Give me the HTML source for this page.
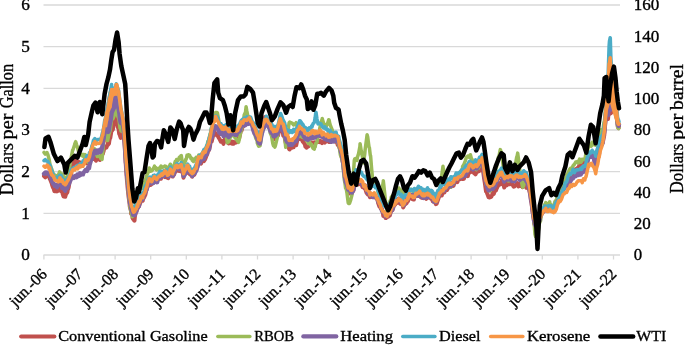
<!DOCTYPE html><html><head><meta charset="utf-8"><style>html,body{margin:0;padding:0;background:#fff;width:685px;height:345px;overflow:hidden}svg{display:block;will-change:transform}</style></head><body><svg width="685" height="345" viewBox="0 0 685 345" font-family='"Liberation Serif", serif'>
<style>text{fill:#000;stroke:#000;stroke-width:0.35px;paint-order:stroke}</style>
<rect width="685" height="345" fill="#fff"/>
<line x1="43.5" y1="213.33" x2="620" y2="213.33" stroke="#D9D9D9" stroke-width="1.3"/>
<line x1="43.5" y1="171.67" x2="620" y2="171.67" stroke="#D9D9D9" stroke-width="1.3"/>
<line x1="43.5" y1="130.00" x2="620" y2="130.00" stroke="#D9D9D9" stroke-width="1.3"/>
<line x1="43.5" y1="88.33" x2="620" y2="88.33" stroke="#D9D9D9" stroke-width="1.3"/>
<line x1="43.5" y1="46.67" x2="620" y2="46.67" stroke="#D9D9D9" stroke-width="1.3"/>
<line x1="43.5" y1="5.00" x2="620" y2="5.00" stroke="#D9D9D9" stroke-width="1.3"/>
<line x1="43.5" y1="255" x2="620" y2="255" stroke="#D9D9D9" stroke-width="1.3"/>
<line x1="43.9" y1="255" x2="43.9" y2="259.5" stroke="#D9D9D9" stroke-width="1.3"/>
<line x1="79.5" y1="255" x2="79.5" y2="259.5" stroke="#D9D9D9" stroke-width="1.3"/>
<line x1="115.1" y1="255" x2="115.1" y2="259.5" stroke="#D9D9D9" stroke-width="1.3"/>
<line x1="150.7" y1="255" x2="150.7" y2="259.5" stroke="#D9D9D9" stroke-width="1.3"/>
<line x1="186.3" y1="255" x2="186.3" y2="259.5" stroke="#D9D9D9" stroke-width="1.3"/>
<line x1="221.9" y1="255" x2="221.9" y2="259.5" stroke="#D9D9D9" stroke-width="1.3"/>
<line x1="257.5" y1="255" x2="257.5" y2="259.5" stroke="#D9D9D9" stroke-width="1.3"/>
<line x1="293.1" y1="255" x2="293.1" y2="259.5" stroke="#D9D9D9" stroke-width="1.3"/>
<line x1="328.7" y1="255" x2="328.7" y2="259.5" stroke="#D9D9D9" stroke-width="1.3"/>
<line x1="364.3" y1="255" x2="364.3" y2="259.5" stroke="#D9D9D9" stroke-width="1.3"/>
<line x1="399.9" y1="255" x2="399.9" y2="259.5" stroke="#D9D9D9" stroke-width="1.3"/>
<line x1="435.5" y1="255" x2="435.5" y2="259.5" stroke="#D9D9D9" stroke-width="1.3"/>
<line x1="471.1" y1="255" x2="471.1" y2="259.5" stroke="#D9D9D9" stroke-width="1.3"/>
<line x1="506.7" y1="255" x2="506.7" y2="259.5" stroke="#D9D9D9" stroke-width="1.3"/>
<line x1="542.3" y1="255" x2="542.3" y2="259.5" stroke="#D9D9D9" stroke-width="1.3"/>
<line x1="577.9" y1="255" x2="577.9" y2="259.5" stroke="#D9D9D9" stroke-width="1.3"/>
<line x1="613.5" y1="255" x2="613.5" y2="259.5" stroke="#D9D9D9" stroke-width="1.3"/>
<path d="M103.5,142 L105,128 L106.5,104 L108.5,92 L111,87 L114,88 L116.5,82 L119,87 L121,100 L123,115 L125,130 L126.5,145 L122,140 L119.2,135 L117.8,127.7 L114.9,114.6 L112,130.6 L109.8,139.3 L107,143 Z" fill="#F79646"/>
<path d="M44.0,176.0 L45.3,177.3 L46.6,175.6 L47.0,175.5 L47.9,176.0 L49.2,176.5 L49.6,178.3 L50.5,180.2 L51.8,183.5 L52.2,185.4 L53.0,187.6 L53.1,186.6 L54.4,191.1 L54.8,191.3 L55.7,190.1 L57.0,191.5 L57.4,191.2 L58.0,189.8 L58.3,188.5 L59.6,190.2 L60.0,188.2 L60.9,191.3 L62.2,191.0 L62.6,193.6 L63.5,196.5 L64.0,196.3 L64.8,194.5 L65.2,196.8 L66.1,194.0 L67.4,192.3 L67.8,189.8 L68.0,189.5 L68.7,187.3 L70.0,178.9 L71.0,173.6 L71.3,174.1 L71.3,172.0 L72.6,165.9 L73.9,162.7 L74.5,160.7 L74.8,160.6 L75.2,161.3 L76.5,163.0 L77.4,161.3 L77.8,162.0 L78.0,161.3 L79.1,162.2 L80.4,163.5 L80.5,162.6 L81.7,163.9 L83.0,163.1 L83.0,162.6 L83.2,163.1 L84.3,162.6 L85.6,160.8 L86.0,162.1 L86.9,163.3 L88.2,160.5 L89.0,162.1 L89.5,162.3 L90.8,159.5 L91.9,158.3 L92.0,158.4 L92.1,158.7 L93.4,159.1 L94.7,158.4 L94.8,157.7 L95.0,159.1 L96.0,160.7 L97.3,157.8 L97.7,159.2 L98.6,157.8 L99.9,160.0 L100.0,159.1 L100.6,158.6 L101.2,157.0 L102.5,153.3 L102.8,153.8 L103.8,150.5 L104.0,147.3 L104.7,146.7 L105.1,147.0 L106.0,147.1 L106.4,147.7 L107.0,146.0 L107.7,143.9 L108.0,144.9 L109.0,143.6 L109.3,141.0 L109.8,138.5 L110.3,137.9 L111.6,130.0 L111.6,131.1 L112.0,130.7 L112.9,129.4 L113.5,125.3 L114.0,124.4 L114.2,123.7 L114.9,118.5 L115.5,117.9 L116.3,119.9 L116.8,121.9 L117.8,127.3 L118.1,127.4 L118.6,129.2 L119.2,134.0 L119.4,133.9 L120.7,137.9 L120.9,137.7 L122.0,135.4 L122.0,137.0 L123.2,135.2 L123.3,134.2 L124.0,137.0 L124.3,140.7 L124.6,144.8 L125.2,155.1 L125.5,160.4 L125.9,166.0 L126.0,168.8 L127.0,181.2 L127.2,182.3 L127.5,186.9 L128.5,196.4 L128.5,196.5 L129.5,203.2 L129.8,206.7 L130.0,207.3 L131.0,210.9 L131.1,213.8 L131.5,214.2 L132.4,215.5 L132.5,217.8 L133.0,218.8 L133.7,218.5 L134.2,220.6 L134.5,220.7 L135.0,215.6 L136.0,212.5 L136.3,211.8 L137.5,208.1 L137.6,208.7 L138.9,206.2 L139.0,206.3 L140.0,203.3 L140.2,203.1 L141.0,200.6 L141.5,198.5 L142.8,200.7 L142.9,199.3 L144.1,197.5 L145.4,194.7 L145.8,192.7 L146.7,188.5 L148.0,185.4 L148.0,186.1 L149.3,184.0 L149.4,181.8 L150.6,185.0 L151.6,184.1 L151.9,183.3 L153.2,183.2 L154.5,180.4 L154.5,180.4 L155.8,180.9 L156.7,181.9 L157.1,180.1 L158.4,178.1 L159.6,178.7 L159.7,178.6 L160.0,178.3 L161.0,178.7 L161.7,176.7 L162.3,175.9 L163.6,175.8 L163.9,176.4 L164.9,177.1 L166.1,175.2 L166.2,174.7 L167.5,177.8 L168.3,178.1 L168.8,175.5 L170.0,174.1 L170.1,174.7 L170.4,172.6 L171.4,175.3 L172.6,176.6 L172.7,176.6 L174.0,174.7 L174.8,172.5 L175.3,171.5 L176.6,170.9 L177.0,170.0 L177.9,168.9 L179.1,170.9 L179.2,168.9 L180.5,171.2 L181.3,168.1 L181.8,169.5 L183.1,174.4 L183.5,177.8 L184.4,174.5 L185.7,173.2 L185.7,173.4 L187.0,172.8 L187.8,169.4 L188.3,171.0 L189.6,173.9 L190.0,174.5 L190.9,174.9 L192.2,176.7 L192.2,176.8 L193.5,173.9 L194.3,174.8 L194.8,172.1 L196.1,170.1 L196.5,170.3 L197.4,166.0 L198.7,161.7 L198.7,164.1 L200.0,163.0 L200.0,163.0 L201.0,163.7 L201.3,161.0 L202.6,159.8 L203.0,160.8 L203.9,161.2 L205.2,159.2 L205.7,157.8 L206.5,155.6 L207.5,153.4 L207.8,152.2 L209.1,148.4 L209.1,149.9 L210.0,146.3 L210.4,143.0 L211.4,140.4 L211.7,141.6 L213.0,136.0 L213.8,134.4 L214.3,132.6 L215.0,134.2 L215.5,133.1 L215.6,133.3 L216.9,135.6 L218.2,135.6 L218.4,137.2 L219.5,139.0 L220.8,141.7 L221.0,140.5 L222.0,141.5 L222.1,141.5 L223.2,142.0 L223.4,143.9 L224.7,139.3 L226.0,138.1 L226.2,139.7 L227.3,142.0 L228.6,143.5 L229.0,142.8 L229.9,140.9 L230.0,141.6 L231.2,143.4 L232.5,143.8 L233.0,141.6 L233.8,143.6 L235.1,142.1 L236.0,142.5 L236.4,142.6 L237.0,141.8 L237.7,140.7 L239.0,137.2 L239.1,138.5 L240.3,133.2 L241.1,130.3 L241.6,130.5 L242.9,125.7 L243.0,126.0 L243.5,126.2 L244.2,124.9 L245.5,121.9 L246.8,120.3 L247.8,121.7 L248.1,121.1 L249.4,117.8 L250.0,119.0 L250.7,120.6 L252.0,123.1 L252.3,124.6 L253.3,128.5 L254.6,128.8 L255.9,132.4 L256.1,134.2 L257.2,139.1 L258.0,140.5 L258.5,142.1 L258.6,141.5 L259.8,139.9 L260.0,141.4 L261.1,132.2 L262.3,126.9 L262.4,125.1 L263.7,121.2 L264.0,120.8 L265.0,117.8 L265.0,117.1 L266.0,117.3 L266.3,118.7 L267.6,119.2 L268.1,121.8 L268.9,122.4 L270.0,127.5 L270.2,127.7 L271.5,132.6 L272.0,134.1 L272.8,136.7 L273.5,137.3 L274.1,139.2 L275.4,139.1 L276.7,136.9 L277.0,136.8 L278.0,135.5 L279.3,129.5 L280.0,128.7 L280.4,127.0 L280.6,128.6 L281.9,130.0 L283.0,133.3 L283.2,135.6 L284.5,136.6 L285.7,143.0 L285.8,143.0 L287.0,145.5 L287.1,145.3 L288.4,146.4 L289.1,149.1 L289.7,149.4 L291.0,146.3 L292.3,147.6 L292.6,147.3 L293.6,147.3 L294.0,145.4 L294.9,145.6 L296.1,143.2 L296.2,145.2 L297.5,139.4 L298.8,139.3 L299.6,136.6 L300.1,137.5 L301.4,139.3 L302.2,140.2 L302.7,141.5 L304.0,142.8 L304.8,144.5 L305.0,144.7 L305.3,146.5 L306.6,147.6 L307.9,145.2 L308.0,146.1 L308.3,146.5 L309.2,144.2 L310.5,142.9 L311.7,142.8 L311.8,142.4 L313.1,142.8 L314.4,142.4 L315.2,144.0 L315.7,142.6 L317.0,142.2 L318.3,141.6 L318.7,142.0 L319.6,140.8 L320.0,142.2 L320.9,141.0 L322.2,143.1 L322.2,141.4 L323.5,141.4 L324.8,142.6 L325.7,141.2 L326.1,139.2 L327.4,138.9 L328.7,141.8 L329.0,139.1 L329.1,139.5 L330.0,142.0 L331.3,138.9 L332.6,140.2 L332.6,141.2 L333.9,139.9 L335.2,141.6 L336.0,141.8 L336.1,141.4 L336.5,140.6 L337.8,145.2 L338.7,145.5 L339.1,146.8 L340.4,149.9 L341.3,154.7 L341.7,157.1 L343.0,162.5 L343.0,163.2 L344.3,172.6 L345.0,178.6 L345.1,178.9 L345.6,181.3 L346.9,186.4 L348.2,190.5 L348.6,190.6 L349.5,193.5 L350.8,193.3 L352.0,193.1 L352.1,192.6 L353.4,190.5 L354.7,184.7 L355.5,184.0 L356.0,184.6 L357.3,183.4 L358.6,184.5 L359.9,182.6 L360.1,182.6 L361.2,183.1 L362.5,187.2 L363.8,186.4 L364.8,188.6 L365.1,188.4 L366.4,192.5 L367.7,194.4 L369.0,192.7 L369.4,195.7 L370.0,197.2 L370.3,195.3 L371.6,197.0 L372.9,195.2 L374.2,197.2 L375.2,196.6 L375.5,196.9 L376.8,198.6 L377.8,201.0 L378.1,202.9 L379.4,206.6 L380.4,207.2 L380.7,208.4 L382.0,209.4 L383.0,213.7 L383.3,216.1 L384.6,214.7 L385.6,218.1 L385.9,218.1 L387.2,216.0 L388.2,216.6 L388.5,215.0 L389.8,215.5 L390.8,211.9 L391.1,210.3 L392.4,210.3 L393.5,207.1 L393.7,205.4 L395.0,204.9 L396.1,202.9 L396.3,203.2 L397.6,202.6 L398.7,201.0 L398.9,199.0 L400.0,201.9 L400.2,203.9 L401.3,203.1 L401.5,204.6 L402.8,204.6 L403.2,207.5 L404.1,205.6 L405.2,203.7 L405.4,204.1 L406.7,203.2 L407.8,200.1 L408.0,201.1 L409.3,196.6 L409.3,197.6 L410.6,197.5 L411.9,198.9 L413.2,199.4 L413.9,199.5 L414.5,196.5 L415.8,196.0 L417.1,195.4 L418.4,196.0 L418.6,194.6 L419.7,195.4 L421.0,197.4 L422.3,198.0 L423.2,197.8 L423.6,196.3 L424.9,197.5 L426.2,198.9 L427.5,197.4 L427.8,196.4 L428.8,197.2 L430.1,197.7 L431.4,199.1 L432.5,199.4 L432.7,201.4 L434.0,200.7 L435.3,202.8 L435.9,204.1 L436.6,203.9 L437.9,200.2 L439.2,196.3 L439.4,196.3 L440.5,194.8 L441.8,195.5 L443.1,191.5 L444.1,191.0 L444.4,192.5 L445.7,189.1 L447.0,190.0 L448.3,187.7 L448.7,186.9 L449.6,184.8 L450.9,186.9 L452.2,183.4 L453.3,185.1 L453.5,185.9 L454.8,182.4 L456.1,180.4 L457.4,182.2 L458.0,180.0 L458.7,178.2 L460.0,179.1 L460.0,178.8 L461.3,178.5 L462.6,179.1 L462.6,179.1 L463.9,178.8 L465.2,175.3 L466.5,175.7 L467.2,175.3 L467.8,176.2 L469.1,170.4 L470.0,170.5 L470.4,172.4 L471.7,171.2 L473.0,171.5 L474.1,173.3 L474.3,172.4 L475.6,174.4 L476.9,170.6 L478.1,171.5 L478.2,170.1 L479.5,170.8 L480.8,167.5 L482.0,167.2 L482.1,168.2 L482.2,167.0 L483.4,173.4 L484.2,179.1 L484.7,182.1 L486.0,191.6 L486.0,190.1 L486.2,190.3 L487.3,193.8 L488.6,197.2 L489.3,197.5 L489.9,197.3 L490.0,196.8 L491.2,196.9 L492.3,194.6 L492.5,192.9 L493.8,193.8 L495.1,189.7 L495.4,190.7 L496.0,190.4 L496.4,189.2 L497.7,186.4 L498.4,185.4 L499.0,183.2 L500.3,184.4 L501.5,181.3 L501.6,180.4 L502.0,181.4 L502.9,181.8 L504.2,187.5 L504.5,186.0 L505.5,183.3 L506.8,185.4 L507.6,183.1 L508.1,183.8 L509.4,184.3 L510.0,183.0 L510.6,183.3 L510.7,183.9 L512.0,183.2 L513.3,186.1 L513.7,186.7 L514.6,186.3 L515.9,185.1 L516.7,183.5 L517.2,183.2 L518.5,186.4 L519.8,183.9 L520.8,185.9 L521.1,184.0 L522.4,187.1 L523.7,183.7 L524.8,184.6 L525.0,185.3 L525.0,185.4 L526.3,187.8 L527.6,188.0 L527.9,187.1 L528.9,188.5 L529.9,193.3 L530.0,194.2 L530.2,193.1 L531.0,201.1 L531.5,203.0 L532.5,211.3 L532.8,213.3 L534.0,221.1 L534.1,223.3 L535.4,226.9 L535.5,226.4 L536.7,226.3 L537.0,225.1 L538.0,223.0 L539.0,221.4 L539.3,220.7 L540.6,216.1 L541.0,215.6 L541.9,213.0 L543.2,212.1 L544.5,209.5 L544.8,210.3 L545.0,210.2 L545.8,208.9 L547.1,209.6 L548.4,210.3 L549.7,207.7 L549.8,208.3 L551.0,208.4 L552.3,209.7 L553.5,210.0 L553.6,207.8 L554.9,208.5 L556.2,204.8 L557.3,202.3 L557.5,201.9 L558.8,199.5 L560.0,194.8 L560.1,195.6 L561.4,191.1 L562.7,189.3 L563.2,188.5 L564.0,186.0 L565.3,183.8 L566.6,185.0 L567.8,182.6 L567.9,182.8 L569.2,179.7 L570.0,179.6 L570.5,176.8 L571.8,176.6 L572.5,174.7 L573.1,174.3 L574.4,171.7 L575.7,169.0 L577.0,169.2 L577.1,168.1 L578.3,167.7 L579.6,164.7 L580.9,162.1 L581.0,163.6 L581.7,164.0 L582.2,165.4 L583.5,164.9 L584.8,161.2 L585.2,163.1 L586.1,159.5 L587.4,157.8 L588.7,153.1 L588.7,153.3 L590.0,153.5 L590.0,153.6 L591.3,154.2 L592.2,153.6 L592.6,155.4 L593.9,158.4 L595.2,163.8 L595.7,164.5 L596.5,161.8 L597.8,155.8 L599.1,150.8 L599.1,150.0 L600.0,147.5 L600.4,145.8 L601.7,144.3 L602.6,142.8 L603.0,141.6 L604.3,135.2 L604.5,132.3 L605.6,118.8 L605.9,117.2 L606.0,115.8 L606.9,119.3 L608.0,119.1 L608.2,117.0 L609.1,108.3 L609.5,109.3 L610.0,113.8 L610.2,110.2 L610.8,112.9 L611.0,113.1 L612.0,107.8 L612.1,109.3 L612.4,108.5 L613.4,107.7 L614.6,105.4 L614.7,105.1 L616.0,113.6 L616.0,112.6 L616.7,117.7 L617.3,121.8 L617.8,126.8 L618.6,128.1 L619.0,126.1" fill="none" stroke="#C0504D" stroke-width="4.0" stroke-linejoin="round" stroke-linecap="round"/>
<path d="M44.0,152.4 L45.3,154.1 L46.6,153.3 L47.0,152.6 L47.9,154.6 L49.2,159.9 L49.6,162.0 L50.4,166.7 L50.5,165.6 L51.8,169.5 L52.2,170.4 L53.1,173.6 L54.4,175.2 L54.8,176.6 L55.7,175.4 L57.0,177.6 L57.4,177.3 L58.3,175.4 L59.6,171.9 L60.0,172.4 L60.9,174.6 L62.2,174.0 L62.6,175.2 L63.5,176.4 L64.3,176.9 L64.8,179.2 L65.2,179.0 L66.1,178.9 L67.4,176.2 L67.8,174.3 L68.0,173.4 L68.7,171.5 L70.0,164.6 L70.0,164.0 L71.3,157.5 L71.3,157.1 L72.6,150.3 L73.0,149.7 L73.9,147.0 L74.8,144.3 L75.2,142.7 L75.7,141.7 L76.5,144.5 L77.4,147.1 L77.8,148.3 L78.3,150.8 L79.1,152.4 L80.4,154.6 L80.5,154.6 L81.7,154.6 L81.7,155.8 L83.0,154.4 L83.2,156.0 L84.3,157.3 L85.2,154.6 L85.6,156.8 L86.0,157.0 L86.9,158.5 L88.2,162.5 L89.0,162.9 L89.5,160.7 L90.8,156.9 L91.9,152.7 L92.1,151.8 L93.0,149.8 L93.4,151.9 L94.7,148.9 L94.8,149.2 L96.0,154.5 L96.2,152.8 L97.3,156.5 L97.7,155.6 L98.6,156.3 L99.9,156.3 L100.0,156.2 L100.6,158.4 L101.2,157.7 L102.0,159.5 L102.5,154.2 L102.8,151.9 L103.8,138.5 L104.0,136.4 L104.7,136.1 L105.1,134.8 L106.0,137.2 L106.4,136.1 L107.0,137.5 L107.7,140.5 L108.0,138.9 L109.0,133.6 L109.3,133.1 L110.3,129.9 L110.5,128.4 L111.6,118.3 L111.6,120.5 L112.9,117.4 L113.0,118.6 L114.0,116.1 L114.2,115.1 L115.3,108.2 L115.5,109.0 L116.3,109.1 L116.8,112.8 L117.5,115.4 L118.1,117.2 L118.6,118.0 L119.4,122.5 L120.0,128.1 L120.7,128.9 L120.9,130.9 L122.0,130.2 L122.0,129.7 L123.2,130.1 L123.3,129.7 L124.0,134.0 L124.3,137.1 L124.6,140.8 L125.2,150.5 L125.9,163.4 L126.0,163.5 L127.0,176.7 L127.2,179.1 L128.0,188.2 L128.5,194.1 L128.5,193.8 L129.8,204.5 L130.0,207.6 L131.1,211.7 L131.5,213.9 L131.6,214.6 L132.4,216.7 L133.0,215.2 L133.7,210.8 L134.5,209.8 L135.0,207.9 L135.0,207.2 L136.0,202.1 L136.3,200.2 L137.0,197.8 L137.5,196.8 L137.6,197.9 L138.9,193.2 L139.0,193.3 L140.0,189.4 L140.2,187.9 L141.0,187.4 L141.5,187.3 L142.8,188.4 L142.9,185.9 L144.1,182.8 L145.0,181.5 L145.4,180.7 L145.8,178.5 L146.7,175.8 L148.0,172.7 L148.0,172.4 L149.3,168.4 L149.4,168.0 L150.6,171.2 L151.6,170.2 L151.9,170.8 L153.2,169.0 L154.5,166.1 L154.5,167.5 L155.8,167.5 L156.0,169.2 L156.7,170.0 L157.1,169.7 L158.4,168.3 L159.6,167.9 L159.7,169.3 L160.3,167.3 L161.0,166.0 L161.7,167.6 L162.3,167.3 L163.6,166.8 L163.9,166.7 L164.9,166.7 L165.0,166.1 L166.1,166.4 L166.2,167.4 L167.5,167.3 L168.3,168.7 L168.8,169.5 L170.0,164.7 L170.1,165.2 L170.4,164.2 L171.4,166.8 L172.6,168.2 L172.7,167.5 L174.0,166.1 L174.8,163.0 L175.3,161.3 L176.2,160.9 L176.6,159.5 L177.0,159.7 L177.9,160.6 L179.1,158.6 L179.2,157.5 L180.5,156.3 L181.3,155.5 L181.8,159.3 L183.1,164.4 L183.5,164.8 L184.4,163.3 L185.7,160.5 L185.7,159.5 L186.4,158.7 L187.0,155.3 L187.8,155.7 L188.3,154.8 L189.6,155.1 L190.0,156.9 L190.7,157.0 L190.9,158.6 L192.2,158.6 L192.2,160.2 L193.5,161.5 L194.3,160.0 L194.8,159.5 L195.1,158.8 L196.1,157.4 L196.5,158.9 L197.4,158.2 L198.7,155.4 L198.7,154.9 L200.0,156.2 L200.0,157.2 L201.0,156.5 L201.3,154.3 L202.6,152.8 L203.0,152.2 L203.9,150.2 L204.0,150.8 L205.2,148.7 L205.7,148.6 L206.5,146.8 L207.5,143.4 L207.8,141.4 L209.1,140.0 L209.1,138.9 L210.0,134.1 L210.4,133.2 L211.4,128.2 L211.7,128.3 L213.0,123.9 L213.7,120.6 L213.8,120.1 L214.3,116.6 L215.5,113.8 L215.6,112.6 L216.9,112.4 L217.4,112.8 L218.2,117.3 L218.4,118.3 L219.5,125.0 L220.0,127.1 L220.8,128.9 L221.0,127.6 L222.1,130.1 L223.2,131.4 L223.4,129.0 L223.7,130.3 L224.7,132.3 L226.0,136.4 L226.2,136.7 L227.3,142.6 L227.4,142.7 L228.6,141.9 L229.0,140.8 L229.9,138.5 L231.1,133.4 L231.2,134.6 L232.5,135.6 L233.0,135.3 L233.8,134.1 L234.9,137.5 L235.1,137.7 L236.0,138.8 L236.4,139.3 L237.7,141.3 L238.6,142.3 L239.0,140.1 L239.1,140.5 L240.3,134.0 L241.1,130.7 L241.6,128.7 L242.4,126.0 L242.9,123.7 L243.5,120.3 L244.2,115.0 L245.5,112.1 L246.1,106.8 L246.8,110.9 L247.8,115.8 L248.1,115.8 L248.6,120.8 L249.4,121.9 L250.0,119.6 L250.7,121.0 L252.0,123.1 L252.3,123.8 L253.3,128.6 L254.6,133.9 L255.9,138.6 L256.1,138.5 L257.2,141.0 L257.3,143.0 L258.5,145.8 L258.6,146.2 L259.8,145.4 L260.0,145.7 L261.0,140.2 L261.1,137.3 L262.3,131.4 L262.4,130.5 L263.7,128.3 L264.0,124.9 L265.0,120.8 L266.0,119.9 L266.3,121.3 L267.6,122.4 L268.1,125.4 L268.9,126.2 L269.8,130.3 L270.0,130.3 L270.2,133.1 L271.5,135.8 L272.8,143.4 L273.5,145.8 L274.1,145.5 L274.8,147.2 L275.4,145.6 L276.7,140.1 L277.0,138.8 L278.0,133.4 L278.5,128.9 L279.3,122.7 L280.4,114.1 L280.6,114.7 L281.9,119.7 L283.0,124.1 L283.2,124.7 L283.9,128.9 L284.5,134.1 L285.7,147.3 L285.8,144.8 L287.1,135.9 L288.4,128.0 L289.1,122.8 L289.7,122.0 L291.0,122.7 L292.3,123.3 L292.6,123.5 L293.6,125.0 L294.9,124.4 L296.1,122.7 L296.2,123.0 L297.5,127.8 L298.8,132.0 L299.6,136.6 L300.1,134.6 L301.4,135.6 L302.2,137.3 L302.7,137.6 L304.0,136.8 L304.8,138.5 L305.3,138.4 L306.6,141.0 L307.9,140.9 L308.3,143.6 L309.2,141.5 L310.0,142.9 L310.5,144.9 L311.7,144.6 L311.8,145.9 L313.1,148.3 L314.3,149.2 L314.4,147.4 L315.2,147.1 L315.7,143.6 L317.0,142.4 L318.3,133.8 L318.7,134.1 L319.6,129.2 L320.9,122.7 L322.2,119.0 L322.2,118.5 L323.5,123.1 L324.8,124.8 L325.7,125.6 L326.1,126.4 L327.4,123.9 L328.7,119.7 L329.1,120.1 L330.0,124.5 L331.3,127.6 L332.6,130.9 L332.6,132.0 L333.9,135.6 L335.2,135.5 L336.1,137.2 L336.5,140.3 L337.8,143.1 L338.7,144.6 L339.1,147.3 L339.6,149.4 L340.4,154.9 L341.3,157.2 L341.7,158.3 L343.0,164.7 L343.0,166.4 L344.3,179.6 L345.0,183.2 L345.1,184.4 L345.6,188.4 L346.2,188.5 L346.9,192.6 L348.2,202.8 L348.6,203.5 L349.5,203.4 L350.8,199.7 L352.0,194.9 L352.1,194.1 L353.4,174.1 L354.3,160.4 L354.7,158.9 L355.5,158.6 L356.0,158.4 L357.0,160.4 L357.3,157.7 L358.6,153.6 L359.9,146.5 L360.1,143.7 L361.2,150.7 L362.5,157.1 L363.6,163.0 L363.8,160.9 L364.8,153.6 L365.1,149.9 L366.4,140.2 L367.1,134.7 L367.7,137.0 L369.0,146.9 L369.4,147.7 L370.0,153.0 L370.3,155.4 L370.6,155.9 L371.6,168.7 L372.9,182.3 L372.9,182.1 L374.2,181.0 L375.2,182.2 L375.5,181.6 L376.4,183.8 L376.8,185.6 L377.8,190.0 L378.1,192.2 L379.4,195.4 L379.9,200.3 L380.4,196.7 L380.7,194.6 L382.0,189.7 L383.0,183.4 L383.3,181.9 L383.3,180.7 L384.6,192.4 L385.6,201.9 L385.9,203.0 L386.8,210.2 L387.2,210.1 L388.2,206.9 L388.5,207.6 L389.8,201.7 L390.8,199.4 L391.1,198.6 L391.4,196.8 L392.4,196.0 L393.5,194.6 L393.7,194.5 L395.0,191.8 L396.1,193.0 L396.3,194.3 L397.0,191.6 L397.6,193.0 L398.7,189.5 L398.9,188.1 L400.2,191.4 L401.3,190.4 L401.5,191.7 L402.0,191.9 L402.8,193.9 L403.2,194.4 L404.1,195.1 L405.2,192.7 L405.4,194.1 L406.7,191.2 L407.8,192.2 L408.0,193.1 L409.3,189.6 L409.3,190.1 L410.0,190.7 L410.6,189.2 L411.9,190.6 L413.2,191.6 L413.9,192.1 L414.5,193.2 L415.8,190.8 L417.1,190.4 L418.4,188.2 L418.6,188.8 L419.7,191.0 L420.0,190.2 L421.0,191.5 L422.3,191.9 L423.2,193.0 L423.6,194.4 L424.9,191.7 L426.2,192.4 L427.5,192.8 L427.8,191.5 L428.8,194.4 L430.1,193.3 L431.4,193.0 L432.5,194.9 L432.7,196.2 L434.0,197.3 L435.0,198.7 L435.3,196.8 L435.9,199.1 L436.6,198.1 L437.9,195.3 L439.2,190.6 L439.4,189.7 L440.0,188.6 L440.5,185.2 L441.8,175.2 L443.0,166.3 L443.1,167.6 L444.1,171.6 L444.4,174.5 L445.7,177.6 L446.0,181.1 L447.0,181.5 L448.3,183.6 L448.7,182.7 L449.6,184.0 L450.9,187.1 L451.0,185.3 L452.2,183.6 L453.3,183.0 L453.5,184.1 L454.8,179.6 L456.1,179.6 L457.4,175.1 L458.0,174.9 L458.7,174.0 L460.0,172.0 L461.3,170.6 L462.6,168.2 L462.6,166.4 L463.9,164.6 L465.2,161.1 L466.5,157.0 L467.0,156.6 L467.2,156.9 L467.8,156.1 L469.1,157.3 L470.0,154.9 L470.4,154.8 L471.7,159.9 L472.0,159.2 L473.0,162.5 L474.1,165.2 L474.3,164.1 L475.6,168.8 L476.5,169.6 L476.9,167.4 L478.1,167.0 L478.2,168.3 L479.5,165.9 L480.8,162.8 L482.0,158.7 L482.1,158.1 L482.2,158.5 L483.4,165.8 L484.2,172.7 L484.7,174.6 L486.0,182.2 L486.2,184.7 L487.3,185.2 L488.6,189.4 L489.3,191.1 L489.9,191.1 L490.3,190.8 L491.2,188.4 L492.3,183.0 L492.5,183.6 L493.8,176.2 L495.0,171.7 L495.1,170.1 L495.4,169.8 L496.4,167.5 L497.7,160.4 L498.4,157.1 L499.0,156.1 L500.3,149.6 L500.5,150.0 L501.5,153.7 L501.6,154.0 L502.9,163.8 L503.5,169.4 L504.2,174.5 L504.5,173.5 L505.5,174.6 L506.8,177.5 L507.6,178.6 L508.1,180.8 L508.6,180.9 L509.4,178.2 L510.6,177.2 L510.7,175.1 L512.0,172.5 L513.3,170.8 L513.7,171.2 L514.6,169.8 L514.7,168.0 L515.9,161.6 L516.7,157.1 L517.2,155.8 L517.7,153.1 L518.5,159.3 L519.7,169.9 L519.8,169.8 L520.8,177.4 L521.1,179.2 L522.4,186.8 L522.8,187.2 L523.7,185.8 L524.8,179.7 L525.0,181.3 L526.3,178.1 L526.9,176.9 L527.6,179.0 L527.9,178.3 L528.9,182.3 L529.9,184.6 L530.0,185.8 L530.2,186.8 L531.0,193.8 L531.5,197.2 L532.5,207.3 L532.8,208.8 L533.0,211.7 L534.0,223.5 L534.1,223.1 L535.0,234.6 L535.4,235.3 L535.5,236.5 L536.7,235.7 L537.0,236.7 L538.0,231.8 L539.0,227.7 L539.3,223.7 L540.0,221.8 L540.6,220.7 L541.0,217.1 L541.9,213.6 L543.2,209.1 L544.5,204.8 L544.8,204.9 L545.0,205.2 L545.8,202.6 L547.1,205.5 L548.4,204.7 L549.7,201.8 L549.8,203.2 L551.0,205.2 L552.3,205.6 L553.5,205.2 L553.6,206.7 L554.9,201.6 L556.2,200.0 L557.3,197.8 L557.5,198.4 L558.8,192.9 L560.0,191.3 L560.1,192.5 L561.4,188.8 L562.7,186.8 L563.0,185.8 L563.2,185.0 L564.0,181.7 L565.3,180.5 L566.6,175.0 L567.8,173.3 L567.9,173.2 L569.2,170.1 L570.5,168.2 L571.8,168.5 L572.5,167.2 L573.1,165.7 L574.4,164.3 L575.7,162.0 L577.0,161.8 L577.1,161.7 L578.3,163.0 L579.6,159.1 L580.9,162.2 L581.7,161.0 L582.2,159.3 L583.5,159.6 L584.8,158.7 L585.2,157.2 L586.1,153.2 L586.4,153.2 L587.4,151.7 L588.7,144.8 L588.7,146.4 L590.0,144.2 L591.0,146.3 L591.3,146.2 L592.2,142.3 L592.6,144.1 L593.9,144.8 L595.2,143.4 L595.7,145.3 L596.5,143.8 L597.8,138.7 L599.1,135.8 L599.1,136.3 L600.3,133.5 L600.4,133.2 L601.7,129.4 L602.6,129.3 L603.0,129.0 L604.0,122.3 L604.3,122.1 L604.5,120.1 L605.6,110.0 L605.9,106.9 L606.0,106.5 L606.9,105.3 L608.0,105.6 L608.2,106.2 L609.1,109.9 L609.5,108.3 L610.0,108.5 L610.2,104.5 L610.8,103.7 L611.0,105.4 L612.0,98.2 L612.1,99.5 L612.4,100.0 L613.4,99.9 L614.6,103.1 L614.7,105.4 L616.0,114.1 L616.7,119.7 L617.3,123.7 L617.8,127.7 L618.6,128.5 L619.0,128.0" fill="none" stroke="#9BBB59" stroke-width="3.5" stroke-linejoin="round" stroke-linecap="round"/>
<path d="M44.0,173.8 L45.3,172.5 L46.6,173.7 L47.0,172.5 L47.9,173.7 L49.2,173.5 L49.6,175.1 L50.5,176.5 L51.8,180.1 L52.2,181.7 L53.0,182.9 L53.1,183.7 L54.4,184.2 L54.8,185.9 L55.7,185.0 L57.0,187.3 L57.4,185.8 L58.0,184.5 L58.3,185.3 L59.6,182.6 L60.0,182.2 L60.9,182.1 L62.2,188.0 L62.6,187.1 L63.5,186.7 L64.0,188.5 L64.8,190.2 L65.2,190.7 L66.1,187.2 L67.4,187.8 L67.8,185.0 L68.0,185.4 L68.7,184.6 L70.0,181.2 L71.3,178.5 L71.3,178.5 L72.6,176.6 L73.9,178.0 L74.5,177.4 L74.8,177.3 L75.2,175.9 L76.5,177.2 L77.4,174.5 L77.8,176.3 L79.1,175.7 L80.0,173.3 L80.4,175.1 L80.5,173.9 L81.7,174.1 L83.0,174.3 L83.2,172.9 L84.3,171.8 L85.6,169.9 L86.0,170.4 L86.9,171.0 L88.2,167.2 L89.0,168.3 L89.5,165.5 L90.8,161.0 L91.9,158.4 L92.1,158.6 L93.4,154.2 L94.7,150.8 L94.8,151.1 L95.0,151.5 L96.0,153.1 L97.3,150.4 L97.7,152.4 L98.6,152.5 L99.9,149.8 L100.0,151.4 L100.6,151.8 L101.2,151.1 L102.5,145.8 L102.8,142.9 L103.8,138.1 L104.0,135.7 L104.7,132.6 L105.1,131.7 L106.0,129.6 L106.4,131.0 L107.0,130.1 L107.7,129.2 L108.3,132.0 L109.0,130.3 L109.3,127.0 L110.3,121.3 L110.5,121.5 L111.6,113.6 L111.6,112.8 L112.9,109.8 L113.0,109.9 L114.0,107.9 L114.2,105.1 L115.5,98.0 L115.6,98.9 L116.3,97.9 L116.8,102.5 L117.5,106.2 L118.1,107.1 L118.6,108.9 L119.4,113.8 L120.0,119.7 L120.7,122.9 L120.9,123.1 L122.0,123.6 L122.8,124.8 L123.2,126.4 L123.3,127.1 L124.0,133.3 L124.3,135.9 L124.6,142.4 L125.2,149.8 L125.9,162.9 L126.0,162.7 L127.0,175.6 L127.2,175.4 L128.5,190.1 L128.5,189.5 L129.8,200.0 L130.0,203.3 L131.1,206.6 L131.5,210.1 L132.4,211.6 L133.0,214.9 L133.7,212.9 L134.0,214.5 L134.5,215.3 L135.0,214.1 L136.0,210.6 L136.3,211.6 L137.0,207.4 L137.5,207.2 L137.6,207.8 L138.9,206.1 L139.0,205.3 L140.2,199.7 L141.0,198.5 L141.5,199.9 L142.8,198.9 L142.9,198.1 L144.1,193.4 L145.4,192.2 L145.8,190.6 L146.7,189.4 L148.0,184.0 L148.0,185.0 L149.3,179.6 L149.4,181.0 L150.0,181.1 L150.6,183.3 L151.6,183.3 L151.9,181.8 L153.2,183.0 L154.5,180.2 L154.5,179.3 L155.8,181.8 L156.7,180.9 L157.1,182.3 L158.4,178.1 L159.6,178.0 L159.7,175.6 L161.0,177.3 L161.7,175.6 L162.3,175.4 L163.6,175.8 L163.9,174.7 L164.9,173.4 L166.1,173.2 L166.2,174.8 L167.5,174.4 L168.3,176.6 L168.8,174.5 L170.1,170.6 L170.4,171.3 L171.4,172.8 L172.6,175.4 L172.7,175.8 L174.0,173.7 L174.8,170.5 L175.3,168.5 L176.6,168.3 L177.0,167.5 L177.9,166.3 L179.1,169.2 L179.2,169.1 L180.0,167.7 L180.5,165.9 L181.3,166.9 L181.8,168.7 L183.1,172.5 L183.5,176.0 L184.4,175.4 L185.7,172.8 L185.7,171.5 L187.0,169.5 L187.8,168.1 L188.3,169.9 L189.6,170.6 L190.0,172.9 L190.9,172.3 L192.2,173.9 L192.2,176.1 L193.5,173.5 L194.3,173.3 L194.8,173.2 L196.1,170.8 L196.5,168.9 L197.4,167.2 L198.7,162.3 L198.7,162.1 L200.0,162.9 L200.0,160.8 L201.0,161.0 L201.3,160.3 L202.6,157.6 L203.0,157.5 L203.9,158.7 L205.2,154.2 L205.7,155.3 L206.5,154.8 L207.5,150.9 L207.8,149.6 L209.1,149.3 L209.1,147.7 L210.0,143.1 L210.4,139.9 L211.4,136.7 L211.7,137.9 L213.0,133.0 L213.8,128.8 L214.3,129.5 L215.0,127.7 L215.5,127.0 L215.6,126.1 L216.9,127.1 L218.2,128.4 L218.4,130.3 L219.5,132.8 L220.8,133.8 L221.0,132.6 L222.0,133.7 L222.1,132.3 L223.2,134.5 L223.4,136.1 L224.7,135.3 L226.0,131.9 L226.2,132.3 L227.3,135.2 L228.6,137.2 L229.0,135.5 L229.9,135.8 L230.0,135.0 L231.2,134.5 L232.5,133.9 L233.0,133.6 L233.8,131.9 L235.1,134.8 L236.0,133.9 L236.4,134.8 L237.7,131.1 L239.0,130.6 L239.1,131.7 L240.3,129.8 L241.1,125.7 L241.6,124.3 L242.9,125.1 L243.5,124.9 L244.2,125.5 L245.5,125.1 L246.8,122.7 L247.8,122.3 L248.1,124.0 L249.4,123.3 L250.0,122.4 L250.7,122.9 L252.0,125.0 L252.3,126.1 L253.3,130.3 L254.6,133.7 L255.9,134.6 L256.1,136.1 L257.2,138.3 L258.5,142.4 L258.6,142.9 L259.8,142.7 L260.0,143.7 L261.1,137.4 L262.3,131.8 L262.4,131.9 L263.7,126.6 L264.0,127.7 L265.0,124.5 L266.0,124.2 L266.3,125.1 L267.6,124.2 L268.1,126.0 L268.9,127.5 L270.0,128.9 L270.2,130.8 L271.5,133.0 L272.8,133.0 L273.5,136.4 L274.1,135.9 L275.4,135.9 L276.7,133.2 L277.0,134.4 L278.0,132.2 L279.3,128.7 L280.0,125.7 L280.4,123.8 L280.6,125.8 L281.9,127.3 L283.0,129.4 L283.2,131.3 L284.5,133.7 L285.7,138.4 L285.8,139.6 L287.1,142.0 L288.4,142.9 L289.1,144.9 L289.7,143.2 L291.0,144.9 L292.3,144.8 L292.6,142.6 L293.6,143.0 L294.9,141.5 L296.1,138.9 L296.2,140.9 L297.5,135.9 L298.8,131.8 L299.6,130.1 L300.1,132.5 L301.4,132.4 L302.2,134.2 L302.7,133.6 L304.0,136.9 L304.8,137.4 L305.3,139.0 L306.6,139.1 L307.9,139.9 L308.3,138.9 L309.2,136.5 L310.5,138.4 L311.7,136.2 L311.8,136.3 L313.1,138.0 L314.4,137.7 L315.2,137.4 L315.7,136.7 L317.0,135.8 L318.3,135.7 L318.7,135.2 L319.6,135.7 L320.9,136.6 L322.2,135.3 L322.2,137.0 L323.5,136.9 L324.8,139.0 L325.7,139.3 L326.1,139.4 L327.4,140.0 L328.7,140.1 L329.1,139.4 L330.0,139.4 L330.0,140.3 L331.3,141.8 L332.6,138.9 L332.6,139.6 L333.9,141.5 L335.2,140.7 L336.1,139.0 L336.5,140.8 L337.8,141.8 L338.7,143.3 L339.1,143.4 L340.4,149.2 L341.3,153.1 L341.7,153.7 L343.0,162.2 L343.0,161.1 L344.3,172.7 L345.0,177.9 L345.1,178.3 L345.6,182.0 L346.9,184.8 L348.2,189.6 L348.6,189.3 L349.5,188.9 L350.8,192.1 L352.0,192.6 L352.1,192.3 L353.4,189.9 L354.7,183.0 L355.5,183.1 L356.0,184.0 L357.3,182.6 L358.6,181.5 L359.9,182.2 L360.1,181.0 L361.2,183.3 L362.5,185.0 L363.8,185.9 L364.8,186.7 L365.1,185.4 L366.4,188.1 L367.7,192.6 L369.0,192.0 L369.4,193.2 L370.0,195.3 L370.3,195.7 L371.6,195.9 L372.9,197.0 L374.2,196.9 L375.2,196.0 L375.5,197.4 L376.8,197.6 L377.8,198.9 L378.1,201.9 L379.4,202.2 L380.4,205.9 L380.7,205.5 L382.0,210.9 L383.0,211.8 L383.3,212.2 L384.6,213.3 L385.6,216.4 L385.9,216.2 L387.2,215.6 L388.2,214.3 L388.5,212.8 L389.8,213.5 L390.8,210.9 L391.1,210.9 L392.4,209.4 L393.5,205.3 L393.7,203.6 L395.0,203.4 L396.1,201.0 L396.3,201.1 L397.6,199.5 L398.7,198.6 L398.9,200.4 L400.0,200.2 L400.2,199.7 L401.3,201.5 L401.5,203.0 L402.8,205.3 L403.2,205.1 L404.1,204.9 L405.2,201.2 L405.4,199.5 L406.7,198.9 L407.8,198.9 L408.0,197.8 L409.3,195.6 L409.3,195.8 L410.6,195.0 L411.9,195.0 L413.2,195.2 L413.9,197.4 L414.5,195.9 L415.8,195.2 L417.1,195.8 L418.4,193.4 L418.6,193.0 L419.7,194.6 L421.0,196.4 L422.3,193.8 L423.2,196.1 L423.6,198.0 L424.9,195.7 L426.2,197.4 L427.5,194.0 L427.8,194.7 L428.8,197.3 L430.1,196.0 L431.4,197.1 L432.5,198.1 L432.7,196.8 L434.0,201.6 L435.3,201.1 L435.9,202.0 L436.6,199.6 L437.9,197.8 L439.2,194.6 L439.4,194.7 L440.5,191.4 L441.8,190.2 L443.1,189.4 L444.1,189.9 L444.4,190.6 L445.7,188.2 L447.0,187.4 L448.3,186.3 L448.7,184.7 L449.6,183.9 L450.9,186.2 L452.2,182.9 L453.3,183.6 L453.5,182.8 L454.8,180.5 L456.1,178.4 L457.4,178.0 L458.0,178.3 L458.7,178.0 L460.0,177.4 L461.3,177.2 L462.6,176.3 L462.6,175.8 L463.9,174.1 L465.2,175.6 L466.5,170.6 L467.2,172.1 L467.8,170.5 L469.1,168.9 L470.0,166.0 L470.4,165.9 L471.7,167.2 L473.0,169.4 L474.1,168.1 L474.3,166.6 L475.6,165.8 L476.9,168.5 L478.1,166.2 L478.2,164.8 L479.5,164.8 L480.0,164.1 L480.8,163.0 L482.1,159.4 L482.2,160.5 L483.4,167.1 L484.2,172.4 L484.7,177.5 L486.0,182.2 L486.2,183.0 L487.3,187.2 L488.6,190.3 L489.3,190.2 L489.9,188.5 L490.0,189.0 L491.2,188.6 L492.3,187.8 L492.5,189.0 L493.8,187.6 L495.1,185.7 L495.4,183.5 L496.4,182.3 L497.7,178.2 L498.4,178.5 L499.0,176.2 L500.3,175.0 L501.5,174.9 L501.6,174.7 L502.9,177.4 L504.2,181.6 L504.5,180.8 L505.5,178.8 L506.8,179.7 L507.6,178.5 L508.1,179.3 L509.4,179.7 L510.6,179.4 L510.7,179.5 L512.0,181.0 L513.3,179.2 L513.7,180.8 L514.6,181.2 L515.9,177.6 L516.7,178.1 L517.2,177.2 L518.5,178.2 L519.8,180.0 L520.8,179.1 L521.1,178.6 L522.4,177.2 L523.7,178.6 L524.8,177.0 L525.0,177.0 L526.3,181.2 L527.6,183.0 L527.9,183.4 L528.9,187.5 L529.9,191.4 L530.0,191.7 L530.2,193.9 L531.0,199.2 L531.5,200.8 L532.5,209.6 L532.8,212.0 L534.0,218.8 L534.1,220.9 L535.4,225.6 L535.5,225.6 L536.7,223.6 L537.0,223.8 L538.0,223.8 L539.0,220.4 L539.3,221.0 L540.6,215.8 L541.0,214.8 L541.9,212.7 L543.2,210.6 L544.5,209.5 L544.8,208.9 L545.8,210.5 L547.1,210.8 L548.4,207.1 L549.7,206.7 L549.8,207.9 L551.0,210.8 L552.3,208.1 L553.5,210.6 L553.6,209.4 L554.9,206.6 L556.2,204.4 L557.3,203.7 L557.5,201.0 L558.8,201.3 L560.0,197.1 L560.1,195.7 L561.4,192.9 L562.7,191.9 L563.2,190.3 L564.0,188.4 L565.3,186.8 L566.6,185.6 L567.8,184.6 L567.9,184.2 L569.2,183.7 L570.5,181.1 L571.8,179.1 L572.5,177.9 L573.1,178.2 L574.4,176.4 L575.7,176.2 L577.0,173.0 L577.1,174.0 L578.3,175.0 L579.0,173.0 L579.6,174.4 L580.9,174.5 L581.7,172.7 L582.2,170.5 L583.5,172.0 L584.8,170.4 L585.2,169.1 L586.1,167.9 L587.4,162.2 L588.7,156.2 L588.7,157.5 L590.0,156.1 L591.3,156.9 L592.2,156.3 L592.6,155.4 L593.9,158.6 L595.0,163.6 L595.2,163.7 L595.7,165.6 L596.5,163.7 L597.8,158.7 L599.1,153.4 L599.1,151.9 L600.0,147.9 L600.4,146.2 L601.7,145.0 L602.6,143.1 L603.0,138.3 L604.3,131.8 L604.5,130.4 L605.6,117.3 L605.9,113.9 L606.0,113.0 L606.9,113.3 L608.0,115.1 L608.2,113.7 L609.1,103.7 L609.5,107.0 L610.0,109.2 L610.2,106.3 L610.8,107.6 L611.0,109.5 L612.0,105.8 L612.1,106.8 L612.4,107.3 L613.4,104.9 L614.6,103.4 L614.7,104.5 L616.0,108.7 L616.0,110.3 L616.7,115.6 L617.3,119.5 L617.8,124.5 L618.6,126.0 L619.0,124.6" fill="none" stroke="#8064A2" stroke-width="4.3" stroke-linejoin="round" stroke-linecap="round"/>
<path d="M44.0,160.7 L45.3,159.6 L46.6,161.1 L47.0,161.0 L47.9,161.7 L49.2,164.8 L49.6,164.5 L50.5,167.1 L51.8,171.1 L52.2,171.9 L53.0,173.8 L53.1,175.5 L54.4,178.4 L54.8,178.0 L55.7,179.3 L57.0,177.0 L57.4,178.7 L58.3,178.8 L59.6,175.3 L60.0,175.7 L60.9,175.3 L62.2,178.1 L62.6,179.9 L63.5,179.5 L64.8,182.6 L65.2,183.1 L66.1,183.0 L67.4,178.3 L67.8,178.1 L68.7,177.6 L70.0,173.9 L71.3,169.2 L71.3,170.7 L72.6,170.3 L73.9,167.4 L74.8,167.5 L75.2,168.0 L76.5,166.4 L77.4,165.4 L77.8,165.8 L79.1,165.6 L80.0,164.1 L80.4,163.6 L80.5,164.2 L81.7,165.1 L83.0,160.9 L83.2,162.4 L84.3,159.8 L85.6,160.0 L86.0,159.0 L86.9,155.9 L88.2,157.7 L89.0,155.6 L89.5,152.6 L90.8,151.2 L91.9,145.8 L92.1,146.7 L93.4,140.5 L94.7,138.7 L94.8,138.6 L95.0,139.2 L96.0,140.5 L97.3,140.0 L97.7,139.5 L98.6,139.6 L99.9,139.1 L100.6,140.1 L101.2,138.2 L102.5,132.6 L102.8,131.8 L103.8,127.1 L104.7,120.1 L105.1,119.9 L106.4,112.8 L107.0,109.0 L107.7,106.4 L109.0,98.6 L109.3,97.1 L110.3,92.1 L111.0,88.4 L111.6,84.5 L111.6,86.1 L112.9,89.2 L114.0,89.0 L114.2,88.9 L115.5,87.4 L116.0,84.6 L116.3,83.8 L116.8,85.5 L118.1,89.1 L118.6,90.3 L119.4,97.0 L120.7,107.0 L120.9,108.5 L122.0,113.2 L122.0,113.7 L123.2,120.1 L123.3,122.4 L124.0,128.1 L124.3,130.6 L124.6,136.6 L125.2,143.4 L125.9,157.1 L126.0,157.2 L127.0,169.1 L127.2,170.7 L128.5,185.3 L128.5,183.4 L129.8,193.3 L130.0,197.0 L131.1,201.6 L131.5,204.3 L132.4,207.2 L133.0,208.3 L133.7,210.9 L134.5,209.4 L135.0,206.1 L135.0,208.0 L136.0,205.0 L136.3,205.1 L137.5,202.3 L137.6,203.8 L138.9,198.6 L139.0,200.6 L140.2,196.3 L141.0,193.6 L141.5,193.4 L142.8,193.1 L142.9,194.1 L144.1,190.8 L145.4,185.9 L145.8,186.9 L146.7,184.1 L148.0,181.6 L148.0,179.8 L149.3,178.6 L149.4,177.4 L150.0,177.0 L150.6,178.1 L151.6,178.7 L151.9,178.9 L153.2,175.5 L154.5,177.0 L154.5,175.1 L155.8,177.1 L156.7,177.2 L157.1,175.8 L158.4,173.7 L159.6,173.9 L159.7,171.5 L161.0,171.4 L161.7,171.7 L162.3,172.0 L163.6,170.8 L163.9,170.7 L164.9,170.8 L166.1,170.0 L166.2,170.7 L167.5,171.5 L168.3,172.4 L168.8,169.3 L170.1,167.8 L170.4,167.0 L171.4,168.6 L172.6,171.8 L172.7,169.8 L174.0,169.7 L174.8,167.1 L175.3,167.7 L176.6,166.1 L177.0,163.6 L177.9,165.9 L179.1,164.6 L179.2,165.3 L180.5,165.1 L181.3,162.6 L181.8,164.8 L183.1,167.9 L183.5,171.3 L184.4,168.4 L185.7,166.4 L185.7,166.7 L187.0,166.9 L187.8,164.1 L188.3,165.8 L189.6,166.2 L190.0,168.1 L190.9,171.0 L192.2,169.7 L192.2,171.7 L193.5,169.1 L194.3,168.2 L194.8,167.4 L196.1,164.5 L196.5,163.9 L197.4,160.7 L198.7,157.5 L198.7,156.4 L200.0,155.0 L200.0,156.2 L201.0,155.5 L201.3,155.2 L202.6,152.8 L203.0,152.3 L203.9,149.4 L205.2,149.1 L205.7,149.3 L206.5,146.1 L207.5,144.4 L207.8,144.1 L209.1,137.9 L209.1,139.6 L210.4,134.2 L211.4,128.1 L211.7,127.7 L213.0,124.0 L213.8,119.2 L214.3,118.3 L215.5,116.4 L215.6,115.9 L216.9,116.5 L218.2,119.7 L218.4,121.1 L219.5,124.1 L220.8,124.2 L221.0,123.7 L222.1,127.5 L223.2,126.9 L223.4,125.8 L224.7,126.2 L226.0,124.5 L226.2,124.5 L227.3,127.6 L228.6,129.6 L229.0,130.1 L229.9,127.7 L231.2,130.3 L232.5,129.4 L233.0,127.7 L233.8,127.9 L235.1,128.5 L236.0,127.8 L236.4,126.2 L237.7,128.3 L239.0,124.7 L239.1,126.0 L240.3,122.3 L241.1,120.8 L241.6,120.3 L242.9,119.0 L243.5,119.6 L244.2,118.2 L245.5,119.2 L246.8,116.8 L247.8,117.8 L248.1,118.4 L249.4,118.4 L250.0,117.0 L250.7,117.2 L252.0,121.2 L252.3,121.7 L253.3,122.8 L254.6,124.6 L255.9,128.3 L256.1,130.5 L257.2,131.1 L258.5,134.9 L258.6,136.5 L259.8,139.4 L260.0,137.9 L261.1,133.0 L262.3,126.2 L262.4,125.5 L263.7,123.0 L264.0,121.2 L265.0,119.8 L266.0,117.8 L266.3,116.3 L267.6,119.7 L268.1,119.4 L268.9,119.9 L270.0,122.8 L270.2,122.1 L271.5,123.4 L272.8,127.9 L273.5,128.6 L274.1,126.4 L275.4,126.7 L276.7,126.9 L277.0,125.9 L278.0,124.9 L279.3,119.8 L280.0,116.3 L280.4,115.5 L280.6,113.5 L281.9,116.4 L283.0,119.9 L283.2,120.0 L284.5,122.5 L285.7,127.4 L285.8,128.4 L287.1,130.2 L288.4,130.2 L289.1,132.7 L289.7,132.4 L290.0,132.0 L291.0,130.6 L292.3,132.5 L292.6,131.7 L293.6,129.4 L294.9,131.5 L296.1,128.9 L296.2,130.3 L297.5,126.3 L298.8,123.3 L299.6,120.9 L300.0,121.8 L300.1,120.7 L301.4,122.6 L302.2,125.0 L302.7,124.1 L304.0,126.5 L304.8,128.3 L305.3,127.6 L306.6,128.4 L307.9,131.2 L308.3,129.4 L309.2,127.8 L310.5,129.1 L311.7,126.0 L311.8,125.7 L312.0,126.9 L313.1,123.5 L314.0,123.0 L314.4,121.9 L315.2,117.4 L315.7,113.2 L316.0,112.3 L317.0,119.1 L318.0,124.0 L318.3,122.5 L318.7,123.2 L319.6,123.2 L320.9,123.9 L322.2,126.1 L322.2,126.4 L323.5,128.0 L324.8,126.8 L325.7,129.0 L326.1,128.1 L327.0,129.9 L327.4,129.1 L328.7,132.8 L329.1,131.1 L330.0,130.2 L331.3,132.9 L332.6,134.8 L332.6,133.3 L333.9,133.5 L335.0,132.8 L335.2,132.5 L336.1,132.2 L336.5,134.3 L337.8,136.2 L338.7,136.2 L339.1,139.2 L340.4,143.3 L341.3,146.4 L341.7,147.2 L343.0,153.5 L343.0,154.2 L344.3,166.6 L345.0,170.9 L345.1,171.8 L345.6,174.0 L346.9,177.4 L348.2,179.4 L348.6,181.1 L349.5,179.5 L350.8,181.5 L352.0,180.4 L352.1,182.5 L353.0,178.1 L353.4,175.4 L354.7,174.7 L355.5,172.1 L356.0,169.9 L357.3,172.1 L358.6,171.5 L359.9,172.4 L360.0,172.4 L360.1,172.2 L361.2,172.0 L362.5,174.9 L363.8,176.4 L364.8,176.7 L365.1,176.3 L366.4,179.0 L367.7,180.1 L369.0,182.2 L369.4,184.0 L370.0,186.2 L370.3,185.5 L371.6,186.1 L372.0,185.8 L372.9,186.3 L374.2,186.3 L375.2,185.2 L375.5,187.7 L376.8,187.0 L377.8,189.6 L378.1,190.8 L379.4,194.5 L380.4,197.0 L380.7,196.7 L382.0,202.7 L383.0,203.6 L383.3,205.3 L384.6,205.9 L385.6,207.1 L385.9,205.5 L387.2,207.5 L388.2,206.4 L388.5,205.8 L389.8,203.6 L390.8,202.4 L391.1,202.2 L392.4,198.9 L393.5,198.3 L393.7,196.3 L395.0,197.6 L395.0,196.2 L396.1,194.1 L396.3,195.1 L397.6,193.2 L398.7,191.9 L398.9,193.4 L400.2,194.9 L401.3,194.4 L401.5,196.9 L402.8,196.2 L403.2,198.3 L404.0,197.4 L404.1,196.5 L405.2,195.0 L405.4,194.9 L406.7,193.5 L407.8,193.1 L408.0,193.9 L409.3,189.2 L409.3,189.6 L410.6,190.8 L411.9,189.3 L413.2,190.5 L413.9,191.3 L414.5,188.5 L415.8,190.4 L417.1,189.0 L418.4,186.3 L418.6,186.3 L419.7,187.6 L421.0,187.7 L422.3,190.8 L423.2,190.3 L423.6,189.4 L424.9,191.1 L426.2,190.0 L427.5,187.8 L427.8,189.1 L428.8,189.6 L430.1,192.1 L431.4,190.3 L432.5,191.5 L432.7,193.8 L434.0,193.4 L435.3,196.8 L435.9,195.8 L436.6,194.3 L437.9,190.4 L439.2,190.3 L439.4,188.3 L440.0,187.4 L440.5,185.6 L441.8,185.7 L443.1,183.2 L444.1,183.8 L444.4,184.5 L445.7,181.5 L447.0,179.7 L448.3,179.2 L448.7,179.0 L449.6,180.3 L450.9,176.7 L452.2,178.6 L453.3,176.9 L453.5,177.9 L454.8,176.8 L456.1,173.0 L457.4,174.3 L458.0,173.2 L458.7,172.6 L460.0,172.3 L461.3,170.5 L462.6,169.3 L462.6,170.8 L463.9,170.6 L465.2,166.8 L466.5,165.2 L467.2,165.8 L467.8,165.3 L469.1,161.7 L470.0,161.1 L470.4,161.9 L471.7,163.0 L473.0,162.4 L474.1,162.8 L474.3,164.2 L475.6,159.9 L476.9,161.4 L478.1,160.1 L478.2,161.5 L479.5,157.3 L480.8,157.4 L482.0,154.5 L482.1,155.1 L482.2,154.6 L483.4,163.3 L484.2,166.9 L484.7,168.8 L486.0,176.3 L486.2,176.2 L487.3,177.1 L488.6,182.0 L489.3,183.0 L489.9,183.1 L491.2,181.2 L492.3,180.4 L492.5,180.9 L493.8,178.6 L495.1,176.0 L495.4,176.6 L496.4,173.9 L497.7,173.7 L498.4,171.2 L499.0,171.4 L500.3,170.2 L501.5,168.2 L501.6,169.8 L502.0,168.6 L502.9,170.0 L504.2,174.2 L504.5,174.5 L505.5,173.6 L506.8,170.0 L507.6,170.6 L508.1,171.3 L509.4,173.1 L510.6,172.9 L510.7,172.0 L512.0,173.5 L513.3,174.5 L513.7,174.2 L514.6,171.9 L515.9,172.8 L516.7,172.0 L517.2,173.6 L518.5,171.3 L519.8,174.4 L520.8,173.1 L521.1,173.4 L522.4,173.5 L523.7,170.7 L524.8,172.2 L525.0,173.9 L525.0,172.7 L526.3,172.5 L527.6,177.5 L527.9,177.7 L528.9,183.0 L529.9,185.1 L530.2,186.1 L531.0,193.8 L531.5,196.1 L532.5,203.7 L532.8,204.6 L534.0,214.3 L534.1,214.6 L535.0,218.3 L535.4,220.8 L535.5,219.4 L536.7,220.9 L537.0,219.5 L538.0,219.2 L539.0,216.3 L539.3,214.8 L540.6,210.8 L541.0,211.3 L541.9,209.3 L543.2,207.9 L544.5,207.0 L544.8,206.0 L545.8,206.6 L547.1,206.3 L548.4,205.8 L549.7,206.9 L549.8,205.7 L551.0,205.7 L552.3,209.1 L553.5,208.7 L553.6,209.0 L554.9,204.7 L556.2,202.0 L557.3,202.5 L557.5,203.3 L558.8,197.8 L560.0,196.2 L560.1,193.9 L561.4,192.6 L562.7,191.0 L563.0,189.4 L563.2,189.3 L564.0,188.8 L565.3,182.7 L566.6,181.9 L567.8,178.3 L567.9,176.9 L569.2,174.6 L570.0,173.4 L570.5,174.6 L571.8,172.9 L572.5,170.7 L573.1,169.3 L574.4,172.6 L575.7,170.3 L577.0,170.1 L577.0,169.5 L577.1,170.0 L578.3,169.7 L579.6,169.6 L580.9,168.0 L581.7,169.3 L582.2,167.3 L583.5,165.9 L584.8,166.6 L585.2,166.3 L586.0,163.1 L586.1,162.2 L587.4,157.3 L588.7,154.8 L588.7,154.7 L590.0,152.0 L591.0,152.9 L591.3,152.5 L592.2,150.2 L592.6,151.4 L593.9,152.2 L595.2,153.7 L595.7,156.2 L596.0,153.4 L596.5,151.4 L597.8,147.6 L599.1,141.8 L599.1,141.6 L600.0,140.0 L600.4,137.7 L601.7,135.8 L602.6,134.9 L603.0,133.9 L604.3,125.9 L604.5,122.9 L605.0,117.6 L605.6,109.5 L605.9,103.1 L606.9,93.0 L608.0,77.1 L608.2,72.6 L609.1,46.1 L609.5,40.5 L609.5,41.2 L610.2,37.7 L610.3,38.1 L610.8,55.5 L611.0,59.6 L612.1,73.9 L612.4,78.2 L612.5,80.1 L613.4,81.4 L614.6,88.2 L614.7,88.0 L616.0,104.1 L616.7,109.8 L617.3,114.3 L617.8,120.0 L618.6,120.0 L619.0,121.9" fill="none" stroke="#4BACC6" stroke-width="3.5" stroke-linejoin="round" stroke-linecap="round"/>
<path d="M604,132 L606,105 L607.6,83 L609.2,58 L610.6,58 L612,78 L614,88 L616.5,108 L618.5,124 L617,126 L612.5,112 L610,103 L608,110 L606,130 Z" fill="#F79646"/>
<path d="M44.0,166.2 L45.3,167.3 L46.6,166.6 L47.0,165.1 L47.9,165.5 L49.2,169.1 L49.6,167.4 L50.5,171.7 L51.8,175.1 L52.2,175.0 L53.1,176.0 L54.4,178.5 L54.8,179.9 L55.7,180.3 L57.0,181.0 L57.4,181.2 L58.3,181.9 L59.6,179.3 L60.0,177.7 L60.9,181.1 L62.2,180.2 L62.6,181.6 L63.5,183.6 L64.8,183.1 L65.2,184.8 L66.1,183.7 L67.4,180.9 L67.8,180.7 L68.7,178.9 L70.0,175.7 L71.3,173.0 L71.3,172.7 L72.6,169.9 L73.9,169.4 L74.8,170.0 L75.2,168.3 L76.5,167.9 L77.4,167.1 L77.8,168.9 L79.1,165.7 L80.4,165.6 L80.5,167.0 L81.7,165.8 L83.0,166.3 L83.2,165.0 L84.3,164.3 L85.6,159.9 L86.0,161.0 L86.9,160.1 L88.2,160.3 L89.0,157.8 L89.5,156.8 L90.8,150.5 L91.9,148.7 L92.1,147.6 L93.4,143.7 L94.7,143.1 L94.8,141.5 L96.0,144.1 L97.3,143.2 L97.7,143.1 L98.6,143.4 L99.9,143.3 L100.6,142.1 L101.2,140.2 L102.5,135.0 L102.8,134.9 L103.8,127.4 L104.7,124.2 L105.1,120.5 L106.4,115.8 L107.0,111.9 L107.7,110.1 L109.0,102.7 L109.3,100.1 L110.3,96.8 L111.6,90.7 L111.6,89.4 L112.9,90.4 L114.0,90.8 L114.2,89.4 L115.5,88.4 L116.3,84.4 L116.8,84.5 L118.1,91.2 L118.6,91.4 L119.4,97.9 L120.7,107.6 L120.9,109.6 L122.0,114.2 L123.2,120.7 L123.3,123.8 L124.3,132.0 L124.6,136.5 L125.2,144.8 L125.9,157.4 L126.0,157.4 L127.0,169.8 L127.2,170.1 L128.5,183.5 L128.5,185.6 L129.8,196.9 L130.0,197.9 L131.1,204.0 L131.5,206.4 L132.4,208.4 L133.0,211.1 L133.7,212.2 L134.5,211.8 L135.0,210.7 L136.0,208.3 L136.3,209.0 L137.5,204.6 L137.6,206.6 L138.9,201.2 L139.0,203.3 L140.2,200.6 L141.0,196.6 L141.5,196.5 L142.8,197.7 L142.9,195.8 L144.1,193.9 L145.4,191.3 L145.8,189.1 L146.7,187.3 L148.0,181.5 L148.0,182.2 L149.3,178.7 L149.4,178.6 L150.6,179.6 L151.6,181.7 L151.9,181.1 L153.2,178.5 L154.5,176.6 L154.5,178.0 L155.8,178.2 L156.7,179.6 L157.1,178.6 L158.4,177.0 L159.6,175.9 L159.7,176.3 L161.0,174.7 L161.7,173.8 L162.3,175.2 L163.6,172.9 L163.9,173.7 L164.9,170.8 L166.1,171.6 L166.2,171.9 L167.5,175.3 L168.3,174.3 L168.8,174.4 L170.1,170.3 L170.4,169.1 L171.4,171.3 L172.6,173.8 L172.7,172.3 L174.0,170.0 L174.8,168.4 L175.3,166.3 L176.6,165.3 L177.0,166.4 L177.9,167.6 L179.1,166.2 L179.2,167.0 L180.5,165.2 L181.3,164.6 L181.8,167.1 L183.1,170.8 L183.5,173.8 L184.4,171.3 L185.7,169.3 L185.7,169.0 L187.0,165.7 L187.8,165.4 L188.3,166.5 L189.6,170.6 L190.0,170.7 L190.9,172.4 L192.2,171.7 L192.2,173.7 L193.5,172.6 L194.3,170.8 L194.8,169.4 L196.1,168.4 L196.5,165.4 L197.4,161.1 L198.7,156.8 L198.7,158.4 L200.0,157.3 L201.0,157.6 L201.3,157.7 L202.6,153.0 L203.0,154.1 L203.9,151.7 L205.2,152.3 L205.7,150.4 L206.5,148.0 L207.5,146.5 L207.8,145.3 L209.1,142.9 L209.1,141.9 L210.4,135.6 L211.4,129.7 L211.7,129.3 L213.0,122.2 L213.8,121.4 L214.3,122.0 L215.5,118.4 L215.6,116.4 L216.9,119.8 L218.2,121.9 L218.4,122.5 L219.5,124.8 L220.8,127.0 L221.0,125.8 L222.1,129.0 L223.2,129.4 L223.4,127.4 L224.7,129.1 L226.0,128.7 L226.2,126.6 L227.3,129.1 L228.6,131.4 L229.0,131.6 L229.9,129.5 L231.2,131.3 L232.5,130.7 L233.0,130.4 L233.8,131.2 L235.1,129.3 L236.0,130.3 L236.4,131.2 L237.7,130.5 L239.0,126.7 L239.1,127.4 L240.3,125.2 L241.1,122.0 L241.6,122.3 L242.9,123.1 L243.5,120.9 L244.2,119.8 L245.5,120.1 L246.8,120.5 L247.8,119.0 L248.1,119.0 L249.4,117.7 L250.0,119.2 L250.7,121.6 L252.0,122.2 L252.3,123.0 L253.3,125.7 L254.6,127.4 L255.9,130.5 L256.1,131.8 L257.2,134.9 L258.5,137.0 L258.6,139.3 L259.8,140.2 L260.0,139.8 L261.1,132.6 L262.3,128.3 L262.4,126.2 L263.7,122.6 L264.0,122.8 L265.0,119.9 L266.0,120.5 L266.3,119.3 L267.6,120.5 L268.1,122.1 L268.9,123.3 L270.0,123.9 L270.2,124.4 L271.5,128.8 L272.8,129.4 L273.5,131.6 L274.1,129.4 L275.4,131.3 L276.7,130.9 L277.0,130.0 L278.0,127.2 L279.3,122.0 L280.4,118.6 L280.6,119.6 L281.9,123.1 L283.0,123.9 L283.2,124.0 L284.5,129.3 L285.7,133.3 L285.8,134.8 L287.1,134.4 L288.4,137.3 L289.1,140.4 L289.7,140.3 L291.0,140.0 L292.3,140.4 L292.6,138.8 L293.6,138.7 L294.9,137.1 L296.1,134.7 L296.2,135.1 L297.5,130.1 L298.8,129.1 L299.6,126.4 L300.1,127.7 L301.4,128.3 L302.2,129.5 L302.7,129.9 L304.0,130.1 L304.8,133.4 L305.3,133.4 L306.6,133.5 L307.9,134.8 L308.3,135.1 L309.2,133.4 L310.5,133.9 L311.7,131.8 L311.8,130.9 L313.1,130.5 L314.4,133.7 L315.2,133.6 L315.7,131.3 L317.0,133.0 L318.3,132.8 L318.7,131.8 L319.6,130.2 L320.9,130.7 L322.2,135.0 L322.2,132.5 L323.5,132.4 L324.8,134.6 L325.7,134.7 L326.1,135.9 L327.4,134.0 L328.7,137.3 L329.1,135.4 L330.0,137.0 L331.3,134.5 L332.6,136.4 L332.6,135.9 L333.9,135.5 L335.2,135.2 L336.1,136.0 L336.5,136.2 L337.8,136.7 L338.7,140.6 L339.1,143.2 L340.4,148.5 L341.3,150.1 L341.7,152.0 L343.0,158.0 L343.0,158.6 L344.3,167.9 L345.1,176.4 L345.6,176.5 L346.9,181.1 L348.2,188.1 L348.6,188.0 L349.5,187.3 L350.8,190.2 L352.0,190.0 L352.1,190.1 L353.4,185.7 L354.7,183.2 L355.5,181.2 L356.0,181.0 L357.3,180.2 L358.6,181.4 L359.9,181.4 L360.1,179.5 L361.2,179.8 L362.5,181.3 L363.8,186.4 L364.8,186.2 L365.1,185.1 L366.4,190.0 L367.7,188.9 L369.0,192.0 L369.4,192.6 L370.0,195.0 L370.3,192.7 L371.6,193.8 L372.9,194.9 L374.2,192.8 L375.2,194.2 L375.5,194.8 L376.8,198.5 L377.8,198.8 L378.1,200.6 L379.4,203.5 L380.4,205.2 L380.7,207.1 L382.0,209.7 L383.0,211.8 L383.3,211.2 L384.6,212.6 L385.6,215.7 L385.9,213.9 L387.2,216.3 L388.2,214.2 L388.5,213.0 L389.8,213.4 L390.8,209.8 L391.1,209.7 L392.4,205.5 L393.5,205.6 L393.7,205.0 L395.0,204.0 L396.1,200.8 L396.3,202.1 L397.6,200.4 L398.7,198.7 L398.9,200.5 L400.2,199.7 L401.3,201.0 L401.5,202.3 L402.8,205.5 L403.2,204.8 L404.1,203.9 L405.2,200.8 L405.4,201.1 L406.7,200.7 L407.8,198.0 L408.0,199.0 L409.3,193.8 L409.3,196.3 L410.6,195.9 L411.9,196.0 L413.2,197.5 L413.9,196.8 L414.5,197.1 L415.8,193.3 L417.1,193.9 L418.4,192.6 L418.6,192.7 L419.7,191.2 L421.0,193.8 L422.3,195.5 L423.2,195.8 L423.6,193.9 L424.9,195.6 L426.2,193.8 L427.5,193.4 L427.8,195.0 L428.8,193.8 L430.1,195.4 L431.4,197.3 L432.5,197.0 L432.7,197.3 L434.0,200.1 L435.3,200.5 L435.9,201.5 L436.6,201.1 L437.9,197.5 L439.2,194.3 L439.4,193.2 L440.5,192.5 L441.8,190.5 L443.1,190.7 L444.1,188.6 L444.4,188.3 L445.7,188.1 L447.0,185.8 L448.3,183.9 L448.7,184.5 L449.6,183.2 L450.9,184.3 L452.2,183.4 L453.3,181.6 L453.5,182.4 L454.8,178.4 L456.1,178.5 L457.4,179.1 L458.0,177.2 L458.7,177.0 L460.0,176.8 L461.3,176.2 L462.6,175.1 L462.6,174.7 L463.9,172.2 L465.2,171.3 L466.5,170.0 L467.2,170.0 L467.8,170.9 L469.1,165.7 L470.0,164.4 L470.4,164.2 L471.7,165.7 L473.0,167.8 L474.1,167.0 L474.3,165.9 L475.6,164.8 L476.9,166.6 L478.1,164.5 L478.2,165.1 L479.5,160.7 L480.8,161.9 L482.1,157.8 L482.2,158.4 L483.4,164.5 L484.2,170.5 L484.7,174.5 L486.0,181.1 L486.2,180.8 L487.3,184.0 L488.6,185.4 L489.3,186.7 L489.9,186.7 L491.2,184.4 L492.3,184.6 L492.5,185.4 L493.8,183.9 L495.1,179.4 L495.4,181.1 L496.4,180.4 L497.7,176.7 L498.4,175.2 L499.0,175.8 L500.3,172.8 L501.5,172.8 L501.6,172.3 L502.9,176.0 L504.2,177.1 L504.5,178.7 L505.5,177.8 L506.8,177.0 L507.6,175.3 L508.1,177.7 L509.4,175.5 L510.6,176.5 L510.7,175.8 L512.0,175.9 L513.3,178.1 L513.7,179.0 L514.6,178.6 L515.9,175.3 L516.7,175.3 L517.2,175.1 L518.5,177.2 L519.8,176.4 L520.8,177.2 L521.1,177.2 L522.4,176.4 L523.7,176.3 L524.8,175.0 L525.0,174.5 L526.3,176.7 L527.6,180.0 L527.9,180.8 L528.9,183.4 L529.9,188.8 L530.2,191.7 L531.0,196.6 L531.5,199.2 L532.5,207.6 L532.8,209.1 L534.0,218.6 L534.1,216.5 L535.4,222.3 L535.5,223.6 L536.7,223.1 L537.0,222.4 L538.0,221.3 L539.0,219.6 L539.3,218.3 L540.6,217.0 L541.0,214.4 L541.9,214.1 L543.2,211.5 L544.5,209.9 L544.8,210.2 L545.8,208.4 L547.1,211.5 L548.4,211.4 L549.7,210.5 L549.8,209.3 L551.0,211.3 L552.3,211.9 L553.5,212.6 L553.6,211.0 L554.9,211.8 L556.2,209.4 L557.3,205.5 L557.5,204.8 L558.8,200.8 L560.0,200.4 L560.1,201.5 L561.4,199.4 L562.7,195.6 L563.2,194.4 L564.0,194.1 L565.3,192.4 L566.6,192.6 L567.8,189.7 L567.9,188.8 L569.2,188.3 L570.5,185.0 L571.8,186.5 L572.5,185.1 L573.1,184.3 L574.4,185.4 L575.7,184.3 L577.0,182.0 L577.1,182.1 L578.3,180.8 L579.6,180.7 L580.9,180.8 L581.7,181.3 L582.2,182.6 L583.5,178.8 L584.8,180.0 L585.2,178.2 L586.1,176.4 L587.4,170.3 L588.7,164.4 L588.7,166.7 L590.0,164.5 L591.3,163.3 L592.2,164.5 L592.6,165.9 L593.9,167.4 L595.2,171.1 L595.7,173.8 L596.5,168.6 L597.8,164.1 L599.1,155.6 L599.1,157.5 L600.4,150.4 L601.7,146.8 L602.6,142.6 L603.0,140.2 L604.3,131.0 L604.5,127.5 L605.6,112.4 L605.9,109.6 L606.9,99.4 L608.0,87.4 L608.2,83.8 L609.1,63.6 L609.5,63.1 L610.2,57.8 L610.8,68.0 L611.0,70.2 L612.1,79.7 L612.4,81.0 L613.4,86.0 L614.6,90.0 L614.7,90.4 L616.0,102.4 L616.7,112.1 L617.3,118.1 L617.8,121.6 L618.6,124.3 L619.0,123.7" fill="none" stroke="#F79646" stroke-width="3.5" stroke-linejoin="round" stroke-linecap="round"/>
<path d="M44.4,147.0 L45.5,138.5 L48.5,136.8 L50.4,142.0 L53.9,154.1 L57.4,161.1 L60.9,157.6 L64.3,164.6 L65.7,172.5 L67.8,162.8 L71.3,159.3 L74.8,155.9 L77.4,157.6 L80.0,150.7 L82.6,143.7 L84.3,137.0 L85.8,145.0 L88.2,134.4 L89.6,122.0 L91.7,112.5 L93.4,105.5 L95.5,102.5 L97.6,112.3 L99.8,102.0 L102.3,114.3 L104.6,94.0 L106.5,84.0 L108.3,77.4 L110.0,69.6 L111.3,60.0 L112.6,52.0 L114.0,50.0 L115.5,40.0 L117.1,32.5 L118.6,42.0 L119.6,54.0 L121.3,66.0 L123.6,76.5 L125.2,84.0 L126.2,100.0 L127.2,120.0 L128.5,140.0 L130.1,160.0 L132.3,188.3 L134.2,201.5 L136.0,197.7 L137.9,188.3 L138.9,192.0 L140.8,182.6 L142.6,173.2 L144.5,172.0 L146.6,158.0 L148.5,146.0 L150.0,143.0 L151.2,148.0 L152.6,157.5 L153.8,156.0 L154.9,144.0 L157.0,141.0 L159.3,141.6 L161.1,147.4 L162.5,138.0 L163.8,130.3 L166.0,134.6 L168.2,141.9 L170.4,127.4 L172.5,130.3 L174.7,139.0 L176.9,128.8 L179.1,121.6 L180.5,123.0 L182.0,127.4 L183.2,130.1 L184.0,146.0 L185.6,136.4 L187.2,130.1 L188.8,126.9 L190.4,128.5 L192.0,133.2 L193.5,139.6 L195.1,134.8 L196.7,131.7 L198.3,128.5 L199.9,122.1 L201.5,118.9 L203.1,115.7 L204.7,112.5 L206.5,112.5 L208.3,117.0 L209.8,123.0 L211.0,121.0 L211.8,110.0 L212.7,99.0 L214.4,83.2 L217.2,79.4 L218.2,92.6 L220.0,98.2 L222.9,100.1 L224.8,105.8 L226.7,113.3 L228.5,124.6 L230.4,115.2 L233.2,130.3 L235.1,113.3 L238.0,100.1 L240.8,96.4 L243.6,96.4 L245.5,94.5 L247.4,86.9 L250.2,88.8 L253.0,92.6 L254.9,103.9 L257.7,122.7 L259.6,126.5 L261.5,113.3 L264.3,105.8 L266.2,102.0 L268.1,107.7 L270.0,113.3 L272.0,120.2 L274.8,116.4 L277.6,108.9 L280.5,102.3 L283.3,105.1 L286.1,112.7 L288.0,107.0 L290.8,105.1 L292.7,107.0 L294.6,95.7 L296.5,87.2 L299.3,88.2 L301.2,84.4 L303.1,89.1 L305.0,95.7 L306.8,99.5 L307.8,108.9 L309.7,108.0 L311.5,101.4 L313.4,109.8 L315.3,105.1 L317.2,93.8 L319.1,93.8 L321.0,92.9 L323.8,95.7 L325.7,91.9 L329.0,87.9 L331.6,90.5 L333.3,95.7 L334.2,102.7 L336.0,107.9 L338.6,109.7 L339.5,114.9 L341.2,123.6 L342.9,130.6 L344.7,140.0 L346.2,155.0 L348.7,172.3 L351.2,183.6 L353.7,173.6 L356.2,184.8 L358.7,169.9 L361.2,161.1 L363.7,159.9 L366.2,163.6 L368.6,177.3 L370.0,188.0 L372.6,180.2 L375.2,178.9 L377.2,182.8 L379.1,188.0 L381.7,194.5 L384.3,201.1 L386.3,206.3 L388.2,210.2 L390.2,206.3 L392.1,199.8 L394.1,193.2 L396.1,185.4 L398.0,178.9 L400.0,176.3 L401.9,180.2 L403.9,188.0 L405.8,190.6 L407.8,185.4 L410.0,182.8 L412.4,176.2 L414.6,177.7 L416.7,174.8 L418.9,171.2 L421.1,172.6 L423.3,170.4 L425.4,171.2 L427.6,175.5 L429.8,172.6 L432.0,177.7 L434.1,179.1 L436.3,184.9 L438.5,180.6 L440.7,178.4 L442.8,182.0 L445.0,177.0 L447.2,172.0 L449.3,167.5 L451.5,163.5 L453.7,159.1 L456.6,153.3 L458.8,152.6 L460.9,157.7 L463.1,154.8 L465.3,149.0 L467.5,143.9 L469.6,144.6 L471.8,140.3 L473.3,138.8 L474.7,144.6 L476.2,150.4 L477.6,147.5 L479.8,141.7 L482.0,137.4 L483.4,141.7 L484.9,151.9 L486.3,162.0 L488.3,174.7 L490.3,182.8 L492.3,176.7 L495.7,166.4 L498.6,159.1 L501.5,153.3 L503.7,155.0 L504.9,167.4 L507.4,172.4 L509.9,162.4 L512.4,171.1 L514.9,164.9 L517.4,169.9 L519.9,166.1 L523.6,162.4 L526.1,157.4 L528.6,162.4 L531.1,172.4 L532.8,192.3 L534.7,210.2 L536.3,226.4 L537.5,249.0 L538.6,226.4 L539.8,205.5 L542.1,196.2 L545.6,190.4 L549.1,188.1 L551.4,195.1 L553.7,192.8 L556.0,195.1 L558.4,188.1 L560.7,183.5 L562.3,176.0 L565.4,166.5 L567.7,154.9 L570.1,152.6 L572.4,157.2 L575.9,148.0 L579.3,138.7 L581.7,142.2 L584.0,145.6 L586.3,152.6 L588.6,136.4 L590.9,124.8 L593.2,127.1 L595.6,143.3 L597.9,129.4 L600.2,113.2 L602.5,103.9 L603.9,95.5 L604.6,78.1 L606.3,77.0 L607.4,92.0 L608.6,101.3 L609.7,89.7 L612.0,73.5 L613.9,66.6 L615.5,78.1 L616.7,92.0 L617.8,101.3 L619.0,108.2" fill="none" stroke="#000" stroke-width="4.5" stroke-linejoin="round" stroke-linecap="round"/>
<text x="21.3" y="260.4" font-size="16" textLength="8.6" lengthAdjust="spacingAndGlyphs">0</text>
<text x="21.3" y="218.7" font-size="16" textLength="8.6" lengthAdjust="spacingAndGlyphs">1</text>
<text x="21.3" y="177.1" font-size="16" textLength="8.6" lengthAdjust="spacingAndGlyphs">2</text>
<text x="21.3" y="135.4" font-size="16" textLength="8.6" lengthAdjust="spacingAndGlyphs">3</text>
<text x="21.3" y="93.7" font-size="16" textLength="8.6" lengthAdjust="spacingAndGlyphs">4</text>
<text x="21.3" y="52.1" font-size="16" textLength="8.6" lengthAdjust="spacingAndGlyphs">5</text>
<text x="21.3" y="10.4" font-size="16" textLength="8.6" lengthAdjust="spacingAndGlyphs">6</text>
<text x="633.8" y="260.4" font-size="16" textLength="8.4" lengthAdjust="spacingAndGlyphs">0</text>
<text x="633.8" y="229.2" font-size="16" textLength="17.0" lengthAdjust="spacingAndGlyphs">20</text>
<text x="633.8" y="197.9" font-size="16" textLength="17.0" lengthAdjust="spacingAndGlyphs">40</text>
<text x="633.8" y="166.7" font-size="16" textLength="17.0" lengthAdjust="spacingAndGlyphs">60</text>
<text x="633.8" y="135.4" font-size="16" textLength="17.0" lengthAdjust="spacingAndGlyphs">80</text>
<text x="633.8" y="104.2" font-size="16" textLength="25.6" lengthAdjust="spacingAndGlyphs">100</text>
<text x="633.8" y="72.9" font-size="16" textLength="25.6" lengthAdjust="spacingAndGlyphs">120</text>
<text x="633.8" y="41.6" font-size="16" textLength="25.6" lengthAdjust="spacingAndGlyphs">140</text>
<text x="633.8" y="10.4" font-size="16" textLength="25.6" lengthAdjust="spacingAndGlyphs">160</text>
<text transform="translate(12.6,195.3) rotate(-90)" font-size="18.4" textLength="52.2" lengthAdjust="spacingAndGlyphs">Dollars</text>
<text transform="translate(12.6,139.4) rotate(-90)" font-size="18.4" textLength="26.0" lengthAdjust="spacingAndGlyphs">per</text>
<text transform="translate(12.6,108.3) rotate(-90)" font-size="18.4" textLength="44.4" lengthAdjust="spacingAndGlyphs">Gallon</text>
<text transform="translate(682.6,193.5) rotate(-90)" font-size="18.4" textLength="49.9" lengthAdjust="spacingAndGlyphs">Dollars</text>
<text transform="translate(682.6,139.8) rotate(-90)" font-size="18.4" textLength="26.1" lengthAdjust="spacingAndGlyphs">per</text>
<text transform="translate(682.6,109.9) rotate(-90)" font-size="18.4" textLength="45.8" lengthAdjust="spacingAndGlyphs">barrel</text>
<text transform="translate(47.9,275) rotate(-45)" font-size="16" text-anchor="end">jun.-06</text>
<text transform="translate(83.5,275) rotate(-45)" font-size="16" text-anchor="end">jun.-07</text>
<text transform="translate(119.1,275) rotate(-45)" font-size="16" text-anchor="end">jun.-08</text>
<text transform="translate(154.7,275) rotate(-45)" font-size="16" text-anchor="end">jun.-09</text>
<text transform="translate(190.3,275) rotate(-45)" font-size="16" text-anchor="end">jun.-10</text>
<text transform="translate(225.9,275) rotate(-45)" font-size="16" text-anchor="end">jun.-11</text>
<text transform="translate(261.5,275) rotate(-45)" font-size="16" text-anchor="end">jun.-12</text>
<text transform="translate(297.1,275) rotate(-45)" font-size="16" text-anchor="end">jun.-13</text>
<text transform="translate(332.7,275) rotate(-45)" font-size="16" text-anchor="end">jun.-14</text>
<text transform="translate(368.3,275) rotate(-45)" font-size="16" text-anchor="end">jun.-15</text>
<text transform="translate(403.9,275) rotate(-45)" font-size="16" text-anchor="end">jun.-16</text>
<text transform="translate(439.5,275) rotate(-45)" font-size="16" text-anchor="end">jun.-17</text>
<text transform="translate(475.1,275) rotate(-45)" font-size="16" text-anchor="end">jun.-18</text>
<text transform="translate(510.7,275) rotate(-45)" font-size="16" text-anchor="end">jun.-19</text>
<text transform="translate(546.3,275) rotate(-45)" font-size="16" text-anchor="end">jun.-20</text>
<text transform="translate(581.9,275) rotate(-45)" font-size="16" text-anchor="end">jun.-21</text>
<text transform="translate(617.5,275) rotate(-45)" font-size="16" text-anchor="end">jun.-22</text>
<line x1="21.10" y1="336.4" x2="54.40" y2="336.4" stroke="#C0504D" stroke-width="4.0" stroke-linecap="round"/>
<text x="58.2" y="341.3" font-size="15.4" textLength="149.5" lengthAdjust="spacingAndGlyphs">Conventional Gasoline</text>
<line x1="217.85" y1="336.4" x2="249.85" y2="336.4" stroke="#9BBB59" stroke-width="3.5" stroke-linecap="round"/>
<text x="254.2" y="341.3" font-size="15.4" textLength="39.8" lengthAdjust="spacingAndGlyphs">RBOB</text>
<line x1="303.35" y1="336.4" x2="336.25" y2="336.4" stroke="#8064A2" stroke-width="4.3" stroke-linecap="round"/>
<text x="340.2" y="341.3" font-size="15.4" textLength="52.8" lengthAdjust="spacingAndGlyphs">Heating</text>
<line x1="402.75" y1="336.4" x2="434.95" y2="336.4" stroke="#4BACC6" stroke-width="3.5" stroke-linecap="round"/>
<text x="439.0" y="341.3" font-size="15.4" textLength="41.5" lengthAdjust="spacingAndGlyphs">Diesel</text>
<line x1="490.65" y1="336.4" x2="522.85" y2="336.4" stroke="#F79646" stroke-width="3.5" stroke-linecap="round"/>
<text x="527.0" y="341.3" font-size="15.4" textLength="63.3" lengthAdjust="spacingAndGlyphs">Kerosene</text>
<line x1="600.45" y1="336.4" x2="633.15" y2="336.4" stroke="#000" stroke-width="4.5" stroke-linecap="round"/>
<text x="636.2" y="341.3" font-size="15.4" textLength="30.0" lengthAdjust="spacingAndGlyphs">WTI</text>
</svg></body></html>
